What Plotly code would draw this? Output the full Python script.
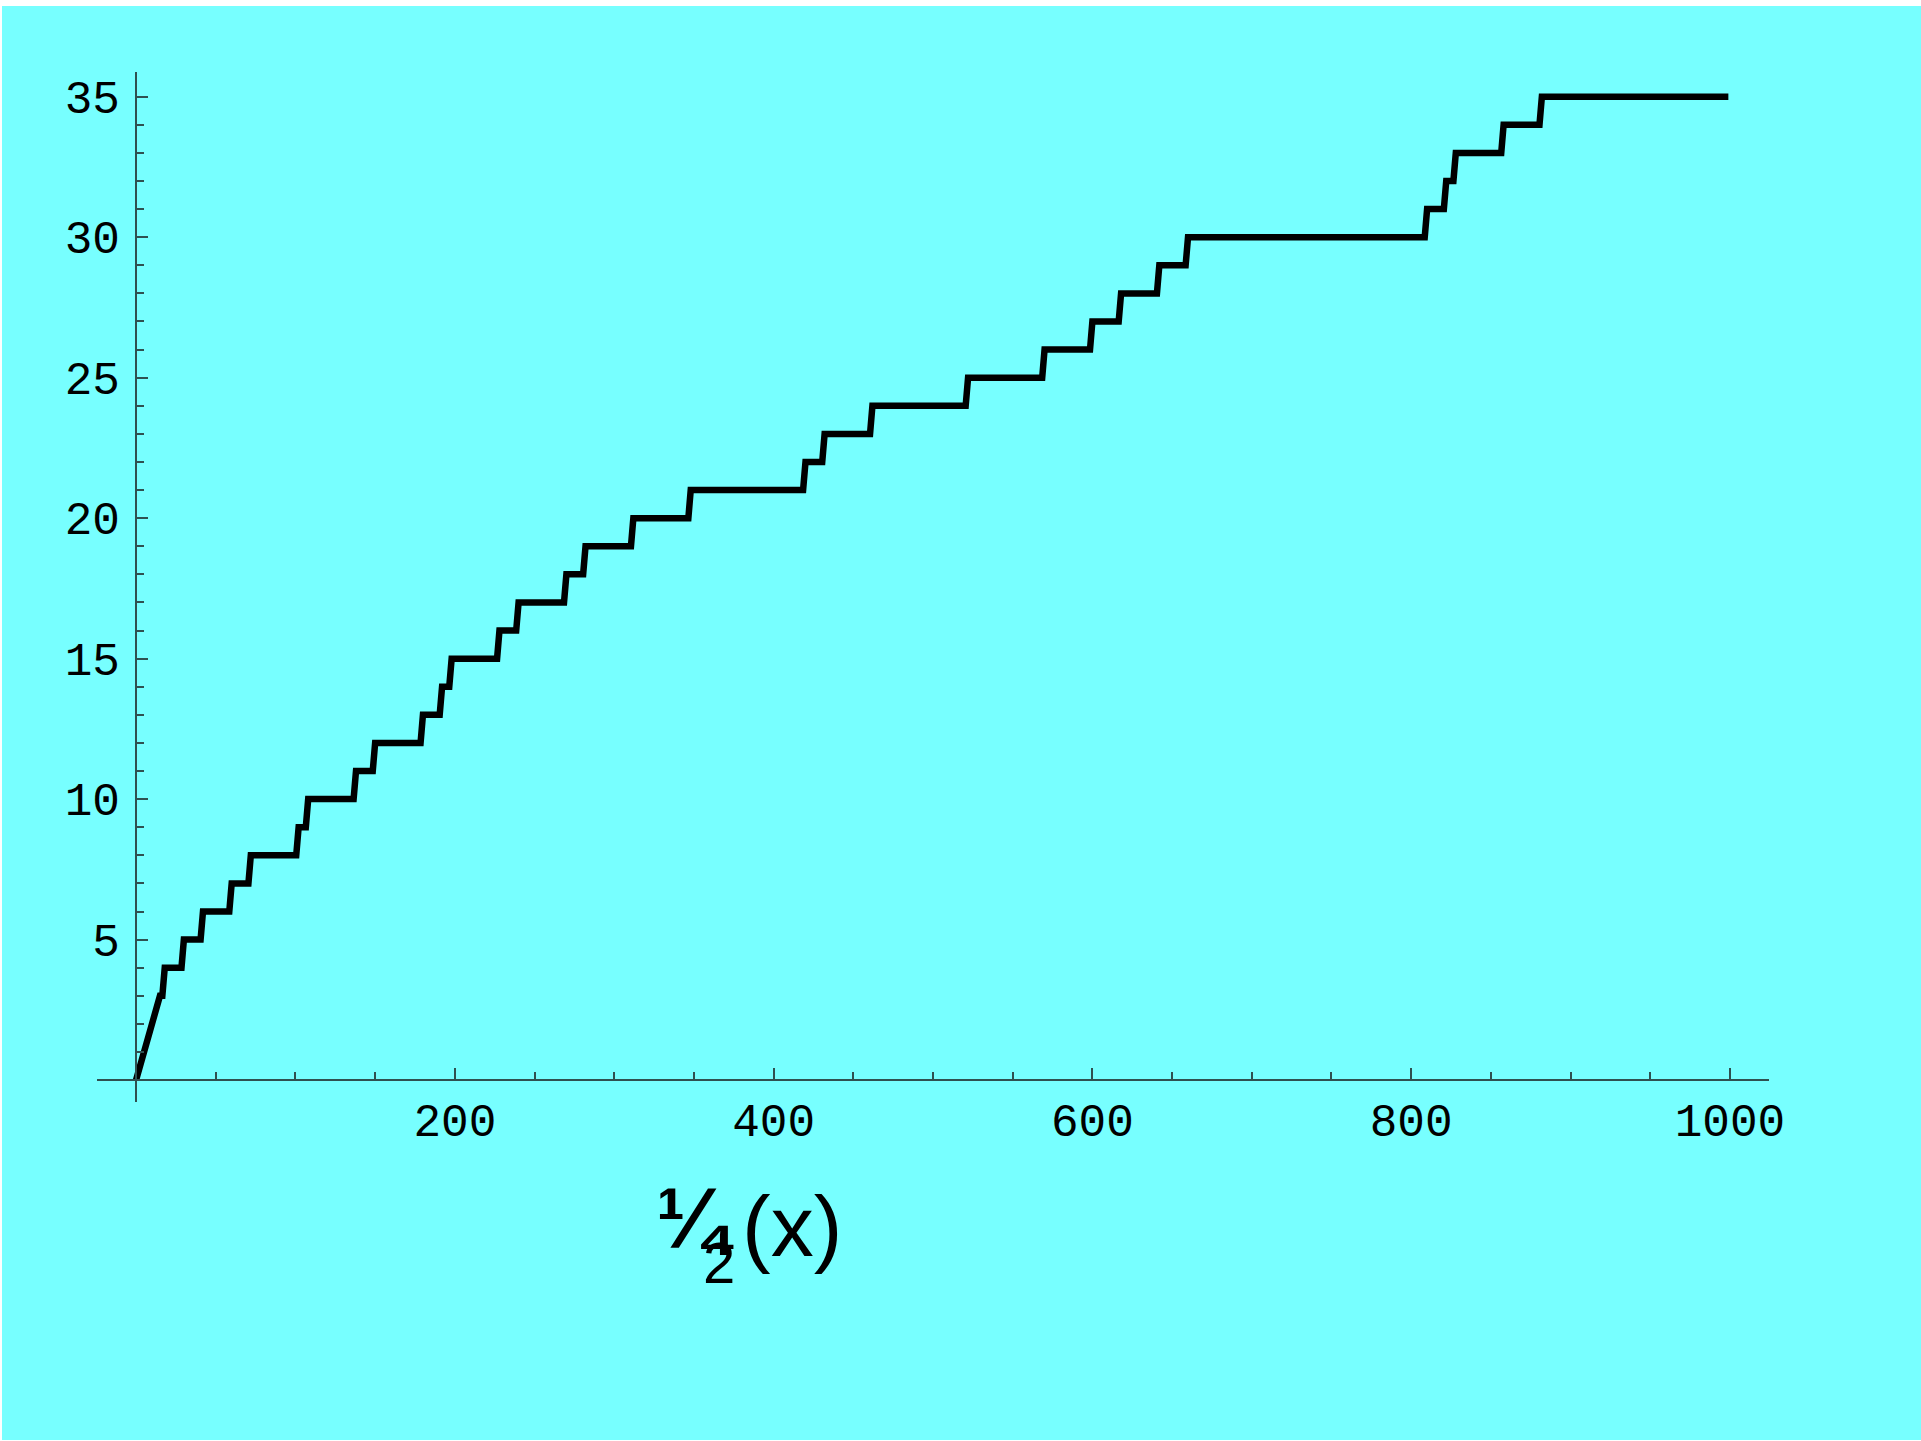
import numpy as np
import plotly.graph_objects as go

# Lower members p of twin-prime pairs (p, p+2) up to 1000
twin_primes = [3, 5, 11, 17, 29, 41, 59, 71, 101, 107, 137, 149, 179, 191, 197,
               227, 239, 269, 281, 311, 347, 419, 431, 461, 521, 569, 599, 617,
               641, 659, 809, 821, 827, 857, 881]
x_max_value = 1000
x_ticks = [200, 400, 600, 800, 1000]
y_ticks = [5, 10, 15, 20, 25, 30, 35]

# sampled evaluation of the counting function (like a sampled function plot)
sample_x = np.concatenate([[0.0], np.arange(15.0, x_max_value + 0.001, 1.5)])
tp = np.array(twin_primes)
sample_y = np.array([(tp <= v).sum() for v in sample_x])

W, H = 1921, 1441
L, R, T, B = 97, 1769, 72, 1102
xr = [-24.5, 1024.5]
yr = [-0.78, 35.88]

def px(p):
    return (p - L) / (R - L)

def py(p):
    return (B - p) / (B - T)

axis_col = "#2f5050"
tick_font = dict(family="Liberation Mono, Courier New, monospace", size=46, color="black")
label_font = "Liberation Sans, Arial, sans-serif"

fig = go.Figure()
fig.add_trace(go.Scatter(x=sample_x, y=sample_y, mode="lines",
                         line=dict(color="black", width=6.5), hoverinfo="skip",
                         showlegend=False))

fig.update_layout(
    width=W, height=H,
    margin=dict(l=L, r=W - R, t=T, b=H - B, pad=0),
    paper_bgcolor="white",
    plot_bgcolor="rgba(0,0,0,0)",
    showlegend=False,
    xaxis=dict(range=xr, showgrid=False, zeroline=False, showline=True,
               linecolor=axis_col, linewidth=2,
               anchor="free", position=(0 - yr[0]) / (yr[1] - yr[0]),
               tickmode="array", tickvals=x_ticks, ticktext=[str(v) for v in x_ticks],
               ticks="inside", ticklen=11, tickwidth=2, tickcolor=axis_col,
               tickfont=tick_font, ticklabelstandoff=0,
               minor=dict(dtick=50, tick0=0, ticks="inside", ticklen=7,
                          tickwidth=1.5, tickcolor=axis_col, showgrid=False)),
    yaxis=dict(range=yr, showgrid=False, zeroline=False, showline=True,
               linecolor=axis_col, linewidth=2,
               anchor="free", position=(0 - xr[0]) / (xr[1] - xr[0]),
               tickmode="array", tickvals=y_ticks, ticktext=[str(v) for v in y_ticks],
               ticks="inside", ticklen=11, tickwidth=2, tickcolor=axis_col,
               tickfont=tick_font, ticklabelstandoff=6,
               minor=dict(dtick=1, tick0=0, ticks="inside", ticklen=7,
                          tickwidth=1.5, tickcolor=axis_col, showgrid=False)),
    shapes=[dict(type="rect", xref="paper", yref="paper", layer="below",
                 x0=px(2), x1=px(W), y0=py(H - 1), y1=py(6),
                 fillcolor="#77ffff", line=dict(width=0))],
    annotations=[
        dict(text="<b>¼</b>", xref="paper", yref="paper", x=px(695), y=py(1218),
             xanchor="center", yanchor="middle", showarrow=False,
             font=dict(family=label_font, size=86, color="black")),
        dict(text="2", xref="paper", yref="paper", x=px(719), y=py(1262),
             xanchor="center", yanchor="middle", showarrow=False,
             font=dict(family=label_font, size=58, color="black")),
        dict(text="(x)", xref="paper", yref="paper", x=px(792), y=py(1226),
             xanchor="center", yanchor="middle", showarrow=False,
             font=dict(family=label_font, size=86, color="black")),
    ],
)

fig.write_html("out.html")
